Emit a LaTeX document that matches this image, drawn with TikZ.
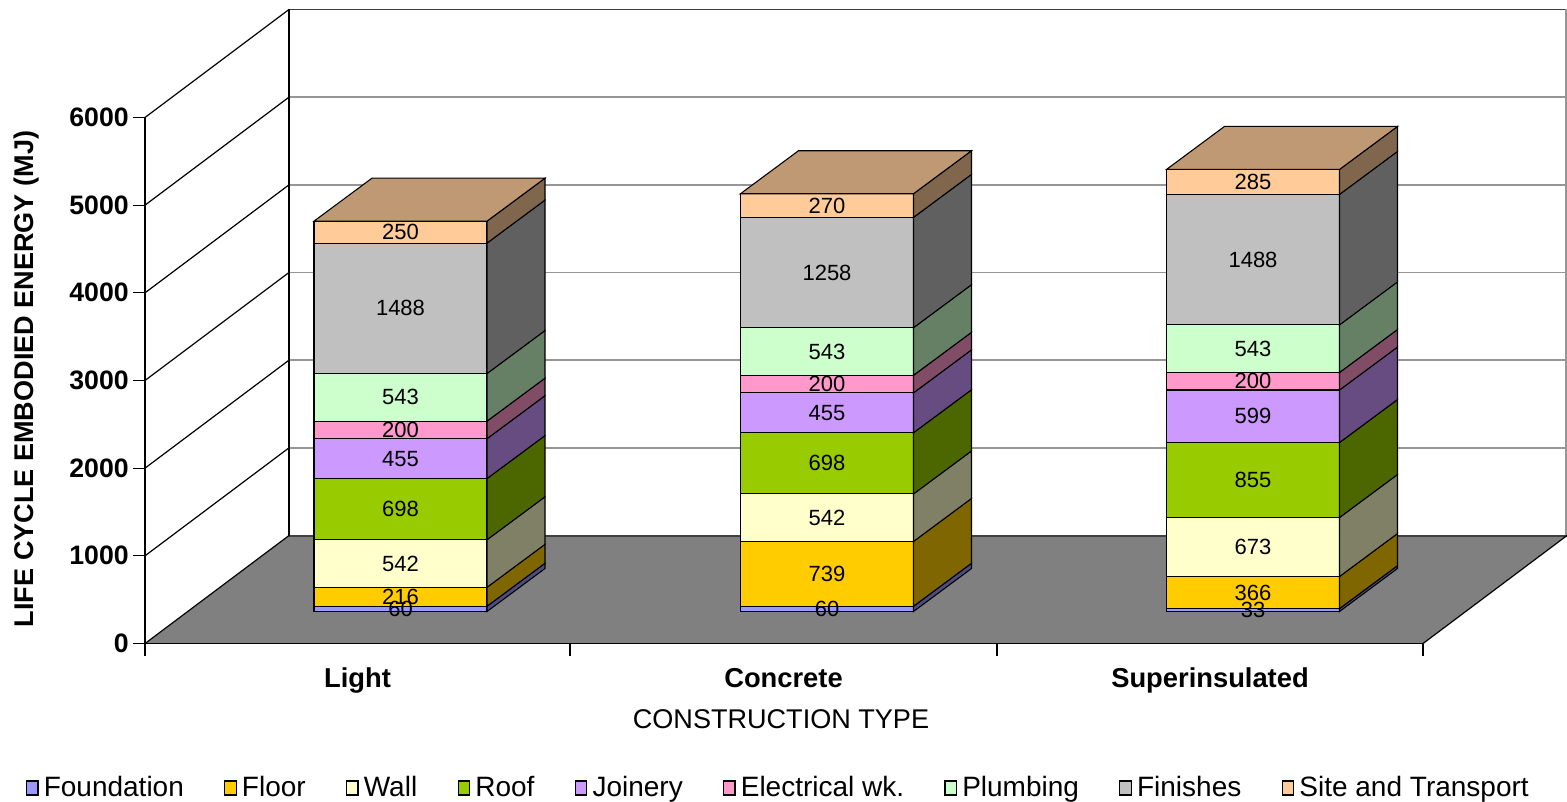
\documentclass[tikz,border=0pt]{standalone}
\usepackage{fontspec}
\setmainfont{Liberation Sans}
\usetikzlibrary{calc}

% series colours (front faces); sides and tops are shaded from these
\definecolor{cFound}{RGB}{153,153,255}
\definecolor{cFloor}{RGB}{255,204,0}
\definecolor{cWall}{RGB}{255,255,204}
\definecolor{cRoof}{RGB}{153,204,0}
\definecolor{cJoin}{RGB}{204,153,255}
\definecolor{cElec}{RGB}{255,153,204}
\definecolor{cPlumb}{RGB}{204,255,204}
\definecolor{cFin}{RGB}{192,192,192}
\definecolor{cSite}{RGB}{255,204,153}
\definecolor{floorgray}{RGB}{128,128,128}
\definecolor{gridgray}{RGB}{150,150,150}
\definecolor{darkedge}{RGB}{64,64,64}

\pgfdeclarelayer{fg}
\pgfsetlayers{main,fg}

% one stacked 3-D column: #1 name, #2 left x of the front face, #3 value/colour list
\newcommand\drawbar[3]{%
  \gdef\ybase{611.5}%
  \foreach \v/\c [count=\i] in {#3}{%
    \pgfmathsetmacro\ytop{\ybase-\v*0.08767}%
    \filldraw[fill=\c, draw=black, barline] (#2,\ybase) rectangle (#2+173,\ytop);
    \filldraw[fill=\c!50!black, draw=black, barline]
      (#2+173,\ybase) -- (#2+231,\ybase-43) -- (#2+231,\ytop-43) -- (#2+173,\ytop) -- cycle;
    \begin{pgfonlayer}{fg}
      \node[seglab] (#1-\i) at (#2+86.5,{(\ybase+\ytop)/2}) {\v};
    \end{pgfonlayer}
    \xdef\ybase{\ytop}%
  }%
  \filldraw[fill=cSite!75!black, draw=black, barline]
    (#2,\ybase) -- (#2+58,\ybase-43) -- (#2+231,\ybase-43) -- (#2+173,\ybase) -- cycle;
}

\begin{document}
\begin{tikzpicture}[x=0.75pt,y=-0.75pt,
  axisline/.style={draw=black, line width=0.9pt},
  barline/.style={line width=0.8pt, line join=miter},
  ticklab/.style={font=\fontsize{20}{24}\selectfont\bfseries, anchor=east, inner sep=0pt},
  catlab/.style={font=\fontsize{20.5}{24}\selectfont\bfseries, anchor=base, inner sep=0pt},
  titlelab/.style={font=\fontsize{20.3}{24}\selectfont, inner sep=0pt},
  seglab/.style={font=\fontsize{16.5}{18}\selectfont, inner sep=0pt},
  legbox/.style={draw=black, line width=0.9pt, minimum width=8.5pt, minimum height=10.5pt, inner sep=0pt, anchor=west},
  legtext/.style={font=\fontsize{21}{24}\selectfont, inner sep=0pt, anchor=base west}]
\useasboundingbox (0,0) rectangle (1567,802);

% floor
\fill[floorgray] (145,643.5) -- (289,535.5) -- (1567,535.5) -- (1423,643.5) -- cycle;

% back wall grid and frame
\foreach \v in {1,...,5}{
  \draw[gridgray, line width=1.3pt] (289,{535.5-\v*87.67}) -- (1567,{535.5-\v*87.67});
}
\draw[darkedge, line width=1.2pt] (289,9.5) -- (1567,9.5);
\draw[gridgray, line width=0.8pt] (1566,9.5) -- (1566,535.5);
\draw[darkedge, line width=1.5pt] (289,535.5) -- (1567,535.5);
\draw[axisline] (289,9.5) -- (289,535.5);

% side wall diagonals, value axis ticks and labels
\foreach \v in {0,...,6}{
  \pgfmathsetmacro\yy{643.5-\v*87.67}
  \draw[axisline] (145,\yy) -- ++(144,-108);
  \draw[axisline] (133,\yy) -- (145,\yy);
}
\node[ticklab] (t0) at (129,643.5) {0};
\node[ticklab] (t1) at (129,555.8) {1000};
\node[ticklab] (t2) at (129,468.2) {2000};
\node[ticklab] (t3) at (129,380.5) {3000};
\node[ticklab] (t4) at (129,292.8) {4000};
\node[ticklab] (t5) at (129,205.2) {5000};
\node[ticklab] (t6) at (129,117.5) {6000};

% front axis lines and category ticks
\draw[axisline] (145,117.5) -- (145,643.5);
\draw[axisline] (145,643.5) -- (1423,643.5);
\draw[axisline] (1423,643.5) -- (1567,535.5);
\foreach \x in {145,570,997,1423}{
  \draw[axisline] (\x,643.5) -- (\x,656);
}

% columns
\drawbar{L}{314}{60/cFound,216/cFloor,542/cWall,698/cRoof,455/cJoin,200/cElec,543/cPlumb,1488/cFin,250/cSite}
\drawbar{C}{740.5}{60/cFound,739/cFloor,542/cWall,698/cRoof,455/cJoin,200/cElec,543/cPlumb,1258/cFin,270/cSite}
\drawbar{S}{1166.5}{33/cFound,366/cFloor,673/cWall,855/cRoof,599/cJoin,200/cElec,543/cPlumb,1488/cFin,285/cSite}

% category and axis titles
\node[catlab] (catL) at (357.5,687) {Light};
\node[catlab] (catC) at (783.5,687) {Concrete};
\node[catlab] (catS) at (1210,687) {Superinsulated};
\node[titlelab, anchor=base] (xtitle) at (781,728) {CONSTRUCTION TYPE};
\node[titlelab, font=\fontsize{20.3}{24}\selectfont\bfseries, rotate=90] (ytitle) at (27,379) {LIFE CYCLE EMBODIED ENERGY (MJ)};

% legend
\foreach \lab/\col [count=\i, remember=\i as \j (initially 0)] in
  {Foundation/cFound, Floor/cFloor, Wall/cWall, Roof/cRoof, Joinery/cJoin,
   Electrical wk./cElec, Plumbing/cPlumb, Finishes/cFin, Site and Transport/cSite}{
  \ifnum\i=1
    \coordinate (p) at (26,788);
  \else
    \path (n\j.base east) ++(40,-8) coordinate (p);
  \fi
  \node[legbox, fill=\col] (k\i) at (p) {};
  \node[legtext] (n\i) at ($(k\i.east)+(5,8)$) {\lab};
}
\end{tikzpicture}
\end{document}
